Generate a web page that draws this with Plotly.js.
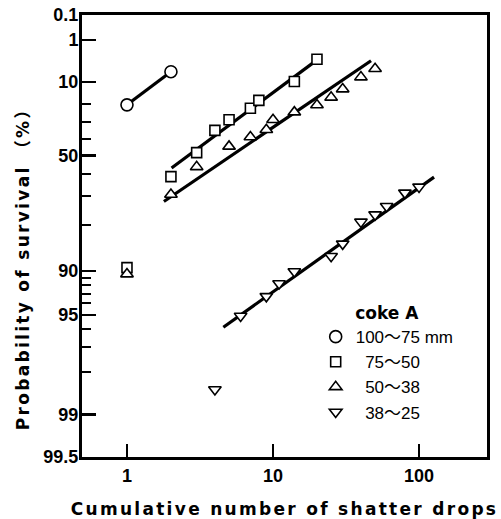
<!DOCTYPE html>
<html>
<head>
<meta charset="utf-8">
<script src="https://cdn.plot.ly/plotly-3.0.1.min.js"></script>
<style>
  html, body { margin: 0; padding: 0; background: #fff; }
  #chart { width: 501px; height: 519px; }
  .xtitle, .ytitle { letter-spacing: 2.3px; }
</style>
</head>
<body>
<div id="chart"></div>
<script>
// ---- data (x = cumulative drops, P = survival %) ----
const circX = [1, 2];
const circP = [20.4, 6.5];

const sqX = [1, 2, 3, 4, 5, 7, 8, 14, 20];
const sqP = [89.5, 61.2, 48.3, 35.1, 28.8, 22.2, 18.1, 9.75, 3.5];

const upX = [1, 2, 3, 5, 7, 9, 10, 14, 20, 25, 30, 40, 50];
const upP = [90.5, 69.3, 56.2, 44.7, 39.1, 34.7, 28.8, 24.4, 20.5, 16.6, 12.8, 8.2, 5.7];

const dnX = [4, 6, 9, 11, 14, 25, 30, 40, 50, 60, 80, 100];
const dnP = [98.5, 95.1, 93.3, 91.8, 90.1, 87.5, 84.9, 79.1, 76.8, 73.9, 68.6, 66.0];

// fitted straight lines (end points)
const sqFitX = [2.02, 18.8];
const sqFitP = [56.8, 4.25];
const upFitX = [1.79, 46.9];
const upFitP = [72.1, 3.8];
const dnFitX = [4.57, 126.7];
const dnFitP = [95.9, 61.4];

const seriesNames = ['100\uFF5E75 mm', '\u200775\uFF5E50', '\u200750\uFF5E38', '\u200738\uFF5E25'];
const legendTitle = 'coke A';

const yTickP = [0.1, 1, 10, 50, 90, 95, 99, 99.5];
const yTickText = ['0.1', '1', '10', '50', '90', '95', '99', '99.5'];
const yMinorP = [20, 30, 40, 60, 70, 80, 91, 92, 93, 94, 96, 97, 98];
const xTickVals = [1, 10, 100];
const xTickText = ['1', '10', '100'];

const xTitle = 'Cumulative number of shatter drops';
const yTitle = 'Probability of survival \uFF08%\uFF09';

// Weibull probability scale: y = ln(-ln(P/100))
const T = p => Math.log(-Math.log(p / 100));
const Tarr = a => a.map(T);

const mk = (sym, size) => ({ symbol: sym, size: size, color: '#fff', line: { color: '#000', width: 1.6 } });
const fitLine = { color: '#000', width: 3.2 };

const traces = [
  { x: circX, y: Tarr(circP), mode: 'lines', line: fitLine, showlegend: false, hoverinfo: 'skip' },
  { x: sqFitX, y: Tarr(sqFitP), mode: 'lines', line: fitLine, showlegend: false, hoverinfo: 'skip' },
  { x: upFitX, y: Tarr(upFitP), mode: 'lines', line: fitLine, showlegend: false, hoverinfo: 'skip' },
  { x: dnFitX, y: Tarr(dnFitP), mode: 'lines', line: fitLine, showlegend: false, hoverinfo: 'skip' },
  { x: circX, y: Tarr(circP), mode: 'markers', name: seriesNames[0], marker: mk('circle', 12) },
  { x: sqX, y: Tarr(sqP), mode: 'markers', name: seriesNames[1], marker: mk('square', 10) },
  { x: upX, y: Tarr(upP), mode: 'markers', name: seriesNames[2], marker: mk('triangle-up', 11) },
  { x: dnX, y: Tarr(dnP), mode: 'markers', name: seriesNames[3], marker: mk('triangle-down', 11) }
];

const tickFont = { family: "'Liberation Sans', Arial, sans-serif", size: 18, color: '#000', weight: 700 };
const titleFont = { family: "'DejaVu Sans', 'Noto Sans CJK JP', sans-serif", size: 17, color: '#000', weight: 700 };

// trailing padding (kept from trimming by a zero-width char) to move the y title down
const pad = '\u00a0'.repeat(7) + '\u200b';

const layout = {
  width: 501, height: 519,
  margin: { l: 82, r: 14, t: 15, b: 62, pad: 0 },
  paper_bgcolor: '#fff', plot_bgcolor: '#fff',
  showlegend: true,
  xaxis: {
    type: 'log',
    range: [Math.log10(0.492), Math.log10(292)],
    tickmode: 'array', tickvals: xTickVals, ticktext: xTickText,
    ticks: 'inside', ticklen: 13, tickwidth: 2.2, tickcolor: '#000',
    showgrid: false, zeroline: false,
    showline: true, linecolor: '#000', linewidth: 3, mirror: true,
    tickfont: tickFont,
    title: { text: xTitle, font: titleFont, standoff: 20 }
  },
  yaxis: {
    range: [T(99.5), T(0.1)],
    tickmode: 'array', tickvals: Tarr(yTickP), ticktext: yTickText,
    ticks: 'inside', ticklen: 14, tickwidth: 2.2, tickcolor: '#000',
    ticklabelstandoff: -3,
    minor: { tickmode: 'array', tickvals: Tarr(yMinorP), ticks: 'inside', ticklen: 9, tickwidth: 2, tickcolor: '#000', showgrid: false },
    showgrid: false, zeroline: false,
    showline: true, linecolor: '#000', linewidth: 3, mirror: true,
    tickfont: tickFont,
    title: { text: yTitle + pad, font: titleFont, standoff: 10 }
  },
  legend: {
    x: 0.577, y: 0.362, xanchor: 'left', yanchor: 'top',
    bgcolor: 'rgba(0,0,0,0)', borderwidth: 0,
    font: { family: "'Liberation Sans', 'Noto Sans CJK JP', sans-serif", size: 17, color: '#000' },
    title: { text: legendTitle, side: 'top center', font: { family: "'DejaVu Sans', sans-serif", size: 17, color: '#000', weight: 700 } },
    itemwidth: 30
  }
};

Plotly.newPlot('chart', traces, layout, { displayModeBar: false, staticPlot: true });
</script>
</body>
</html>
